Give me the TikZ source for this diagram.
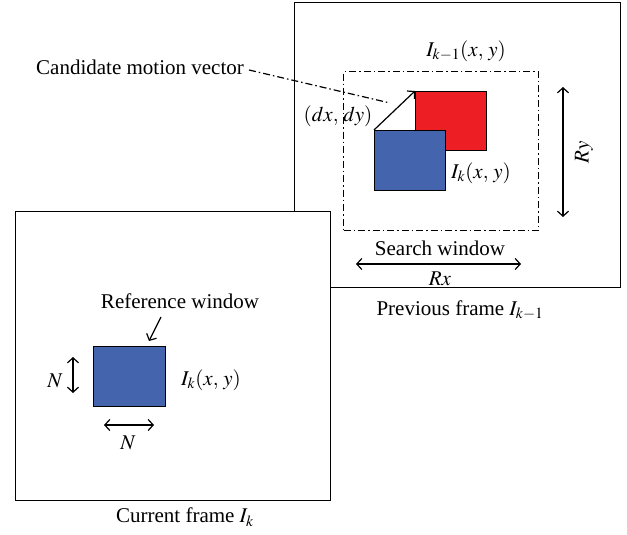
\documentclass[tikz,border=0pt]{standalone}
\usepackage{mathptmx}
\usepackage{fontspec}
\setmainfont{Liberation Serif}
\usetikzlibrary{arrows.meta}
\definecolor{bluebox}{RGB}{68,100,173}
\definecolor{redbox}{RGB}{237,30,36}
\tikzset{
  frame/.style={draw, line width=1.3pt, inner sep=0pt, anchor=north west},
  box/.style={draw, line width=1.3pt, inner sep=0pt, anchor=north west},
  dashdot/.style={line width=1.2pt, dash pattern=on 7pt off 3pt on 1.5pt off 3pt},
  lbl/.style={inner sep=1pt, font=\fontsize{21}{23}\selectfont},
  dbl/.style={line width=1.2pt, {Straight Barb[length=5pt,width=11pt]}-{Straight Barb[length=5pt,width=11pt]}},
  sgl/.style={line width=1.2pt, -{Straight Barb[length=5pt,width=11pt]}},
}
\begin{document}
\begin{tikzpicture}[x=1pt,y=-1pt]
\useasboundingbox (0,0) rectangle (627,535);
% previous frame
\node[frame, minimum width=326pt, minimum height=285pt] (prev) at (294,2) {};
\node[draw, dashdot, inner sep=0pt, anchor=north west, minimum width=195pt, minimum height=159pt] (search) at (343,71) {};
\node[box, fill=redbox, minimum width=71pt, minimum height=59pt] (red) at (415,91) {};
\node[box, fill=bluebox, minimum width=71pt, minimum height=60pt] (blue) at (374,130) {};
\draw[sgl] (blue.north west) -- (red.north west);
\node[lbl] (ikm1) at (466,51) {$I_{k-1}(x,\, y)$};
\node[lbl] (dxdy) at (338,116) {$(dx,\, dy)$};
\node[lbl, anchor=west] (ik1) at (450,173) {$I_k(x,\, y)$};
\coordinate (ryt) at (563,87);
\coordinate (ryb) at (563,217);
\draw[dbl] (ryt) -- (ryb);
\node[lbl, rotate=90] (ry) at (584,152) {$Ry$};
\node[lbl] (sw) at (440,248) {Search window};
\coordinate (rxl) at (356,264);
\coordinate (rxr) at (521,264);
\draw[dbl] (rxl) -- (rxr);
\node[lbl] (rx) at (440,279) {$Rx$};
\node[lbl] (pf) at (460,310) {Previous frame $I_{k-1}$};
\node[lbl, anchor=west] (cand) at (35,67) {Candidate motion vector};
\coordinate (candend) at (390,103);
\draw[dashdot] (cand.east) ++(4,3) -- (candend);
% current frame
\node[frame, fill=white, minimum width=315pt, minimum height=289pt] (cur) at (15,211) {};
\node[box, fill=bluebox, minimum width=72pt, minimum height=60pt] (ref) at (93,346) {};
\node[lbl] (rw) at (180,301) {Reference window};
\coordinate (rwa) at (161,317);
\coordinate (rwb) at (149,341);
\draw[sgl] (rwa) -- (rwb);
\coordinate (nt) at (73,357);
\coordinate (nb) at (73,393);
\draw[dbl] (nt) -- (nb);
\node[lbl] (n1) at (55,381) {$N$};
\node[lbl, anchor=west] (ik2) at (180,380) {$I_k(x,\, y)$};
\coordinate (nl) at (104,425);
\coordinate (nr) at (154,425);
\draw[dbl] (nl) -- (nr);
\node[lbl] (n2) at (128,443) {$N$};
\node[lbl] (cf) at (185,517) {Current frame $I_k$};
\end{tikzpicture}
\end{document}
